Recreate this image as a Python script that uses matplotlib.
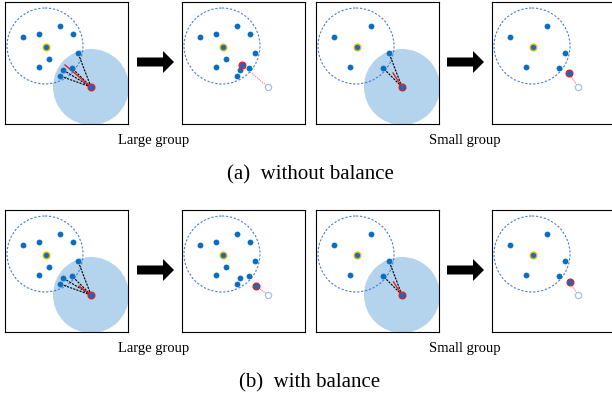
import numpy as np
import matplotlib.pyplot as plt
import matplotlib.patches as mpatches

# Cluster members (panel units, y grows downward)
large_x = [18, 34, 55, 68, 73, 44, 34, 58, 67, 55]
large_y = [35, 32, 24, 32, 51, 57, 65, 68, 66, 74]
small_x = [18, 55, 73, 67, 34]
small_y = [35, 24, 51, 66, 65]

centroid = (41, 45)
cluster_center = (40, 44)
cluster_radius = 38
neighbor_radius = 38

# Outlier point before and after the update
outlier_start = (86, 85)
moved_without = {"large": (60, 63), "small": (77, 71)}
moved_with = {"large": (74, 76), "small": (77.5, 72)}

group_labels = ["Large group", "Small group"]
captions = ["(a)  without balance", "(b)  with balance"]

POINT = "#0a6fc2"
GOLD = "#f2b705"
RED = "#e0202a"
SHADE = "#b4d3ed"
DASH_BLUE = "#4a7bd0"

W, H = 612, 396
fig = plt.figure(figsize=(W / 100, H / 100), dpi=100)
plt.rcParams["font.family"] = ["Liberation Serif", "DejaVu Serif"]

# background axes in pixel units for arrows and text
bg = fig.add_axes([0, 0, 1, 1])
bg.set_xlim(0, W)
bg.set_ylim(H, 0)
bg.axis("off")

panel_x = [5, 182, 316, 492]
panel_y = [2, 210]
pw, ph = 123, 122


def panel(x0, y0):
    ax = fig.add_axes([x0 / W, 1 - (y0 + ph) / H, pw / W, ph / H])
    ax.set_xlim(0, pw)
    ax.set_ylim(ph, 0)
    ax.set_xticks([])
    ax.set_yticks([])
    for s in ax.spines.values():
        s.set_linewidth(0.8)
        s.set_color("black")
    return ax


def cluster(ax, xs, ys):
    ax.add_patch(mpatches.Circle(cluster_center, cluster_radius, fill=False,
                                 edgecolor=DASH_BLUE, lw=0.8,
                                 linestyle=(0, (2, 1.6)), zorder=2))
    ax.plot(xs, ys, "o", color=POINT, ms=4.2, mec="none", zorder=4)
    ax.plot(*centroid, "o", color=POINT, ms=4.8, mec=GOLD, mew=1.0, zorder=5)


def before(ax, xs, ys, moved):
    ax.add_patch(mpatches.Circle(outlier_start, neighbor_radius,
                                 color=SHADE, lw=0, zorder=1))
    cluster(ax, xs, ys)
    ox, oy = outlier_start
    for x, y in zip(xs, ys):
        if np.hypot(x - ox, y - oy) < neighbor_radius:
            ax.plot([ox, x], [oy, y], color="black", lw=0.8,
                    linestyle=(0, (2, 1)), zorder=3)
    ax.plot([ox, moved[0]], [oy, moved[1]], color=RED, lw=1.0, zorder=3.5)
    ax.plot(ox, oy, "o", color=POINT, ms=4.8, mec=RED, mew=1.0, zorder=6)


def after(ax, xs, ys, moved):
    cluster(ax, xs, ys)
    ox, oy = outlier_start
    ax.plot([ox, moved[0]], [oy, moved[1]], color="#f07070", lw=0.8,
            linestyle=(0, (1, 1)), zorder=3)
    ax.plot(ox, oy, "o", mfc="white", mec="#a8bde6", ms=4.5, mew=0.9, zorder=4)
    ax.plot(*moved, "o", color=POINT, ms=4.8, mec=RED, mew=1.0, zorder=6)


for row, moves in enumerate([moved_without, moved_with]):
    y0 = panel_y[row]
    before(panel(panel_x[0], y0), large_x, large_y, moves["large"])
    after(panel(panel_x[1], y0), large_x, large_y, moves["large"])
    before(panel(panel_x[2], y0), small_x, small_y, moves["small"])
    after(panel(panel_x[3], y0), small_x, small_y, moves["small"])

    # transition arrows
    for xa in [137, 447]:
        bg.add_patch(mpatches.FancyArrow(xa, y0 + 60, 37, 0, width=9,
                                         head_width=22, head_length=11,
                                         length_includes_head=True,
                                         color="black", lw=0))

    bg.text(154, y0 + 142, group_labels[0], ha="center", va="baseline",
            fontsize=10.5)
    bg.text(465, y0 + 142, group_labels[1], ha="center", va="baseline",
            fontsize=10.5)
    bg.text(310, y0 + 177, captions[row], ha="center", va="baseline",
            fontsize=15)

fig.savefig("out.png", dpi=100)
